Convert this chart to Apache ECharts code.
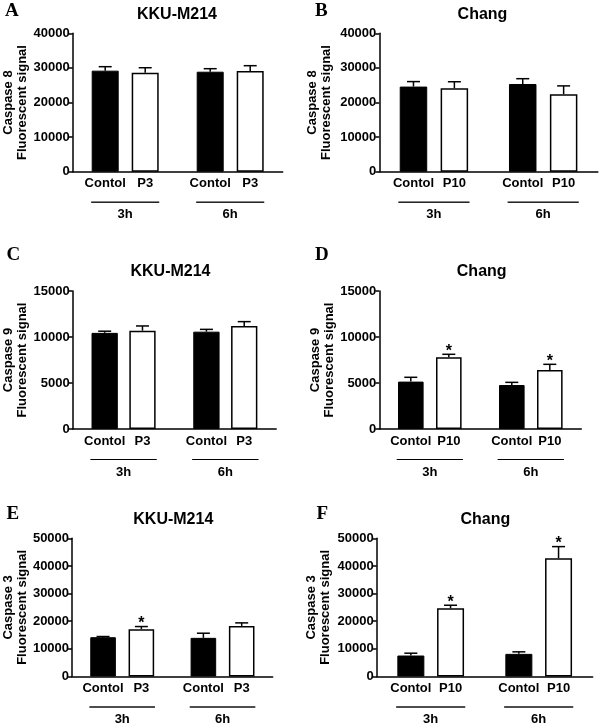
<!DOCTYPE html>
<html>
<head>
<meta charset="utf-8">
<script src="https://cdn.jsdelivr.net/npm/echarts@6/dist/echarts.min.js"></script>
<style>
html,body{margin:0;padding:0;background:#fff;}
#chart{width:600px;height:726px;}
</style>
</head>
<body>
<div id="chart"></div>
<script>
// ---------- data ----------
const groups = ['3h', '6h'];
const ctrlLabel = 'Contol';
const yNameLine2 = 'Fluorescent signal';

// A: Caspase 8, KKU-M214
const aTitle = 'KKU-M214', aTreat = 'P3', aYName = 'Caspase 8';
const aYMax = 40000, aYStep = 10000;
const aCtrl = [29200, 28900], aCtrlErr = [1150, 870];
const aTrt  = [28600, 29100], aTrtErr  = [1450, 1540];
const aStar = [0, 0];

// B: Caspase 8, Chang
const bTitle = 'Chang', bTreat = 'P10', bYName = 'Caspase 8';
const bYMax = 40000, bYStep = 10000;
const bCtrl = [24600, 25350], bCtrlErr = [1440, 1530];
const bTrt  = [24100, 22400], bTrtErr  = [1900, 2400];
const bStar = [0, 0];

// C: Caspase 9, KKU-M214
const cTitle = 'KKU-M214', cTreat = 'P3', cYName = 'Caspase 9';
const cYMax = 15000, cYStep = 5000;
const cCtrl = [10450, 10580], cCtrlErr = [180, 250];
const cTrt  = [10690, 11200], cTrtErr  = [510, 470];
const cStar = [0, 0];

// D: Caspase 9, Chang
const dTitle = 'Chang', dTreat = 'P10', dYName = 'Caspase 9';
const dYMax = 15000, dYStep = 5000;
const dCtrl = [5150, 4780], dCtrlErr = [470, 290];
const dTrt  = [7790, 6410], dTrtErr  = [330, 620];
const dStar = [1, 1];

// E: Caspase 3, KKU-M214
const eTitle = 'KKU-M214', eTreat = 'P3', eYName = 'Caspase 3';
const eYMax = 50000, eYStep = 10000;
const eCtrl = [14220, 13980], eCtrlErr = [240, 1680];
const eTrt  = [17110, 18310], eTrtErr  = [960, 1090];
const eStar = [1, 0];

// F: Caspase 3, Chang
const fTitle = 'Chang', fTreat = 'P10', fYName = 'Caspase 3';
const fYMax = 50000, fYStep = 10000;
const fCtrl = [7590, 8190], fCtrlErr = [840, 730];
const fTrt  = [24700, 42770], fTrtErr  = [1080, 4220];
const fStar = [1, 1];

// ---------- layout (positions / styles only) ----------
const FONT = 'Liberation Sans, Arial, sans-serif';
const SERIF = 'Liberation Serif, Times New Roman, serif';
const panels = [
  {letter:'A', title:aTitle, treat:aTreat, yName:aYName, yMax:aYMax, yStep:aYStep, ctrl:aCtrl, ctrlErr:aCtrlErr, trt:aTrt, trtErr:aTrtErr, star:aStar,
   left:72.7, top:33.3, width:210, height:138.4, barW:27, gap:13, lineW:68, nameGap:38.5, tx:177, ty:15, lx:5, ly:11},
  {letter:'B', title:bTitle, treat:bTreat, yName:bYName, yMax:bYMax, yStep:bYStep, ctrl:bCtrl, ctrlErr:bCtrlErr, trt:bTrt, trtErr:bTrtErr, star:bStar,
   left:379.3, top:33.3, width:218.5, height:138.4, barW:27.5, gap:13.4, lineW:71, nameGap:45.5, tx:482.5, ty:15, lx:315, ly:11},
  {letter:'C', title:cTitle, treat:cTreat, yName:cYName, yMax:cYMax, yStep:cYStep, ctrl:cCtrl, ctrlErr:cCtrlErr, trt:cTrt, trtErr:cTrtErr, star:cStar,
   left:72.7, top:291, width:203.5, height:138, barW:26.3, gap:11.5, lineW:66, nameGap:36, tx:170.5, ty:271.7, lx:6.5, ly:255},
  {letter:'D', title:dTitle, treat:dTreat, yName:dYName, yMax:dYMax, yStep:dYStep, ctrl:dCtrl, ctrlErr:dCtrlErr, trt:dTrt, trtErr:dTrtErr, star:dStar,
   left:379.3, top:291, width:202, height:138, barW:25.6, gap:12.4, lineW:66, nameGap:39, tx:481.7, ty:271.7, lx:315, ly:255},
  {letter:'E', title:eTitle, treat:eTreat, yName:eYName, yMax:eYMax, yStep:eYStep, ctrl:eCtrl, ctrlErr:eCtrlErr, trt:eTrt, trtErr:eTrtErr, star:eStar,
   left:71.7, top:538.3, width:201, height:138.4, barW:25.6, gap:12.7, lineW:65.5, nameGap:37, tx:173.3, ty:520, lx:6.5, ly:514},
  {letter:'F', title:fTitle, treat:fTreat, yName:fYName, yMax:fYMax, yStep:fYStep, ctrl:fCtrl, ctrlErr:fCtrlErr, trt:fTrt, trtErr:fTrtErr, star:fStar,
   left:376.7, top:538.3, width:216, height:138.4, barW:27, gap:12.7, lineW:69, nameGap:44.5, tx:485.3, ty:519.3, lx:316.5, ly:514}
];

function errRender(side, barW, gap) {
  return function (params, api) {
    const c = api.coord([api.value(0), api.value(1)]);
    const t = api.coord([api.value(0), api.value(1) + api.value(2)]);
    const x = c[0] + side * (barW + gap) / 2;
    const children = [
      {type:'line', shape:{x1:x, y1:c[1], x2:x, y2:t[1]}, style:{stroke:'#000', lineWidth:1.5}},
      {type:'line', shape:{x1:x - 6.5, y1:t[1], x2:x + 6.5, y2:t[1]}, style:{stroke:'#000', lineWidth:1.5}}
    ];
    if (api.value(3)) {
      children.push({type:'text', style:{text:'*', x:x, y:t[1] - 3, textAlign:'center', textVerticalAlign:'middle',
        font:'bold 16px ' + FONT, fill:'#000'}});
    }
    return {type:'group', children};
  };
}

const grid = [], xAxis = [], yAxis = [], series = [], graphic = [];
panels.forEach((p, i) => {
  grid.push({left:p.left, top:p.top, width:p.width, height:p.height, containLabel:false});
  const tokW = p.barW + p.gap;
  xAxis.push({
    type:'category', gridIndex:i, data:groups,
    axisLine:{lineStyle:{color:'#000', width:1.5}},
    axisTick:{show:false},
    axisLabel:{
      interval:0, margin:3, color:'#000',
      formatter: v => `{c|${ctrlLabel}}{t|${p.treat}}\n{l|}\n{h|${v}}`,
      rich:{
        c:{width:tokW, align:'center', fontWeight:'bold', fontSize:13, fontFamily:FONT, lineHeight:18, color:'#000'},
        t:{width:tokW, align:'center', fontWeight:'bold', fontSize:13, fontFamily:FONT, lineHeight:18, color:'#000'},
        l:{width:p.lineW, height:0, align:'center', borderColor:'#000', borderWidth:0.9, lineHeight:19},
        h:{align:'center', fontWeight:'bold', fontSize:13, fontFamily:FONT, lineHeight:6, color:'#000'}
      }
    }
  });
  yAxis.push({
    type:'value', gridIndex:i, min:0, max:p.yMax, interval:p.yStep,
    name:p.yName + '\n' + yNameLine2, nameLocation:'middle', nameGap:p.nameGap, nameRotate:90,
    nameTextStyle:{color:'#000', fontWeight:'bold', fontSize:13, fontFamily:FONT, lineHeight:14},
    axisLine:{show:true, lineStyle:{color:'#000', width:1.5}},
    axisTick:{show:true, length:4, lineStyle:{color:'#000', width:1.5}},
    splitLine:{show:false},
    axisLabel:{margin:3, color:'#000', fontWeight:'bold', fontSize:13, fontFamily:FONT, formatter: v => String(v)}
  });
  series.push({
    type:'bar', xAxisIndex:i, yAxisIndex:i, data:p.ctrl, barWidth:p.barW, barGap:(p.gap / p.barW * 100) + '%',
    itemStyle:{color:'#000', borderColor:'#000', borderWidth:1}, silent:true
  });
  series.push({
    type:'bar', xAxisIndex:i, yAxisIndex:i, data:p.trt, barWidth:p.barW, barGap:(p.gap / p.barW * 100) + '%',
    itemStyle:{color:'#fff', borderColor:'#000', borderWidth:1.5}, silent:true
  });
  series.push({
    type:'custom', xAxisIndex:i, yAxisIndex:i, z:5, silent:true,
    renderItem: errRender(-1, p.barW, p.gap),
    data: p.ctrl.map((v, k) => [k, v, p.ctrlErr[k], 0])
  });
  series.push({
    type:'custom', xAxisIndex:i, yAxisIndex:i, z:5, silent:true,
    renderItem: errRender(1, p.barW, p.gap),
    data: p.trt.map((v, k) => [k, v, p.trtErr[k], p.star[k]])
  });
  graphic.push({type:'text', x:p.tx, y:p.ty, style:{text:p.title, textAlign:'center', textVerticalAlign:'middle',
    font:'bold 16px ' + FONT, fill:'#000'}});
  graphic.push({type:'text', x:p.lx, y:p.ly, style:{text:p.letter, textAlign:'left', textVerticalAlign:'middle',
    font:'bold 19px ' + SERIF, fill:'#000'}});
});

const chart = echarts.init(document.getElementById('chart'), null, {renderer:'canvas'});
chart.setOption({
  backgroundColor:'#fff',
  animation:false,
  grid, xAxis, yAxis, series, graphic
});
</script>
</body>
</html>
